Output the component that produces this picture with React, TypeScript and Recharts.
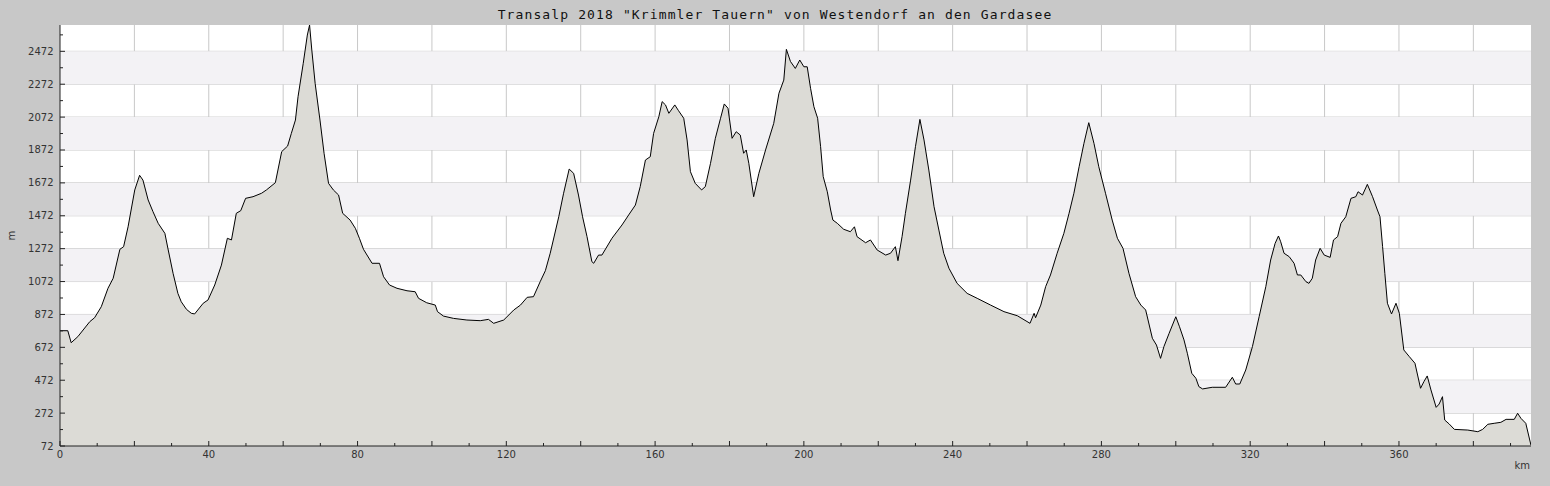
import React from 'react';
import { AreaChart, Area, XAxis, YAxis, CartesianGrid, ReferenceArea } from 'recharts';

const TITLE = 'Transalp 2018 "Krimmler Tauern" von Westendorf an den Gardasee';

// distance along the route (km) and elevation (m)
const kmValues = [
  0, 2.1, 3.0, 4.8, 8.0, 9.3, 11.1, 12.9, 14.3, 16.1, 17.1, 18.3, 20.1, 21.4, 22.3, 23.7, 25.0, 26.4, 28.2, 29.1,
  30.4, 31.7, 32.6, 34.0, 35.3, 36.2, 38.5, 39.8, 41.6, 43.4, 45.0, 46.1, 47.4, 48.6, 49.9, 51.9, 54.2, 55.5, 57.9, 59.6,
  61.2, 62.2, 63.3, 64.0, 65.4, 66.5, 67.1, 67.7, 68.6, 69.9, 71.0, 72.2, 73.5, 74.9, 76.0, 78.0, 79.4, 80.5, 81.6, 83.9,
  85.9, 87.0, 88.6, 90.6, 93.3, 95.5, 96.4, 98.6, 100.9, 101.5, 103.1, 105.8, 109.4, 113.0, 115.2, 116.6, 119.3, 122.0, 123.8, 125.6,
  127.3, 129.1, 130.5, 131.8, 134.1, 135.4, 136.9, 138.1, 139.4, 140.5, 141.7, 143.0, 143.5, 144.8, 145.7, 148.4, 151.1, 152.9, 154.7, 156.0,
  157.4, 158.7, 159.6, 161.0, 161.9, 162.8, 163.7, 165.3, 166.3, 167.7, 168.6, 169.5, 170.8, 172.5, 173.5, 174.9, 176.2, 177.6, 178.6, 179.6,
  180.7, 181.8, 182.9, 183.8, 184.5, 185.2, 186.5, 187.9, 189.7, 191.9, 193.3, 194.6, 195.3, 196.4, 197.7, 198.9, 200.0, 200.9, 201.8, 202.7,
  203.7, 204.5, 205.2, 206.3, 207.2, 207.8, 209.0, 210.7, 212.5, 213.6, 214.3, 216.6, 217.9, 219.7, 222.0, 223.3, 224.6, 225.3, 226.4, 227.3,
  228.7, 230.0, 231.2, 232.3, 233.6, 235.0, 236.3, 237.6, 239.0, 241.2, 243.9, 246.6, 250.2, 253.8, 257.4, 260.8, 261.9, 262.3, 263.7, 265.0,
  266.3, 268.1, 269.9, 271.3, 272.6, 274.0, 275.3, 276.6, 278.0, 279.3, 281.1, 282.9, 284.3, 285.8, 287.4, 289.2, 290.6, 291.9, 293.7, 294.8,
  295.9, 296.8, 298.2, 300.0, 301.0, 302.2, 303.1, 304.3, 305.4, 306.2, 307.2, 309.8, 313.4, 315.2, 316.1, 317.2, 318.8, 320.6, 322.4, 324.2,
  325.5, 326.7, 327.6, 328.2, 329.1, 330.5, 331.8, 332.7, 333.6, 335.0, 335.8, 336.7, 337.6, 338.8, 339.9, 341.5, 342.4, 343.5, 344.4, 345.7,
  347.1, 348.4, 349.0, 350.2, 351.5, 352.9, 354.2, 354.9, 355.6, 356.2, 356.9, 358.0, 359.2, 360.1, 361.3, 362.8, 364.3, 365.8, 366.7, 367.6,
  368.6, 370.0, 370.8, 371.7, 372.3, 373.5, 374.9, 378.5, 381.2, 382.5, 383.9, 385.6, 387.4, 388.8, 391.0, 391.9, 392.8, 394.1, 395.5,
];

const elevation = [
  773, 773, 700, 737, 828, 852, 919, 1031, 1092, 1268, 1284, 1405, 1629, 1718, 1689, 1568, 1497, 1426, 1365, 1264,
  1122, 1000, 949, 903, 879, 875, 940, 960, 1051, 1172, 1335, 1325, 1487, 1503, 1578, 1588, 1609, 1629, 1673, 1862,
  1896, 1973, 2054, 2196, 2399, 2571, 2632, 2480, 2277, 2054, 1852, 1669, 1629, 1598, 1487, 1446, 1396, 1335, 1268, 1183,
  1183, 1101, 1051, 1031, 1016, 1010, 970, 943, 929, 889, 862, 848, 838, 834, 842, 818, 838, 899, 929, 976,
  980, 1071, 1138, 1244, 1466, 1609, 1756, 1730, 1598, 1466, 1345, 1193, 1183, 1233, 1233, 1335, 1416, 1477, 1537, 1649,
  1811, 1831, 1973, 2074, 2166, 2146, 2095, 2146, 2111, 2065, 1933, 1740, 1669, 1629, 1649, 1791, 1943, 2065, 2152, 2126,
  1943, 1983, 1963, 1852, 1872, 1791, 1588, 1730, 1872, 2034, 2217, 2297, 2484, 2410, 2368, 2419, 2378, 2378, 2247, 2135,
  2065, 1892, 1710, 1618, 1507, 1446, 1426, 1390, 1375, 1405, 1345, 1308, 1325, 1264, 1233, 1244, 1284, 1199, 1345, 1487,
  1689, 1892, 2058, 1933, 1750, 1527, 1385, 1244, 1153, 1061, 1000, 970, 929, 889, 864, 818, 879, 852, 929, 1041,
  1112, 1244, 1365, 1487, 1609, 1770, 1912, 2038, 1912, 1770, 1609, 1446, 1335, 1274, 1122, 980, 929, 899, 727, 686,
  605, 676, 757, 858, 797, 717, 636, 514, 484, 433, 419, 429, 429, 490, 449, 449, 534, 676, 858, 1041,
  1203, 1304, 1349, 1314, 1244, 1223, 1183, 1112, 1112, 1071, 1061, 1092, 1203, 1274, 1233, 1219, 1325, 1345, 1426, 1466,
  1578, 1588, 1618, 1598, 1663, 1588, 1507, 1466, 1284, 1122, 940, 875, 940, 879, 656, 615, 575, 423, 463, 498,
  413, 307, 327, 372, 230, 206, 173, 169, 159, 173, 204, 210, 216, 234, 234, 271, 240, 210, 76,
];

const xTicks = [
  0, 10, 20, 30, 40, 50, 60, 70, 80, 90, 100, 110, 120, 130, 140, 150, 160, 170, 180, 190,
  200, 210, 220, 230, 240, 250, 260, 270, 280, 290, 300, 310, 320, 330, 340, 350, 360, 370, 380, 390,
];
const xGrid = [20, 40, 60, 80, 100, 120, 140, 160, 180, 200, 220, 240, 260, 280, 300, 320, 340, 360, 380];
const yTicks = [
  72, 172, 272, 372, 472, 572, 672, 772, 872, 972, 1072, 1172, 1272, 1372, 1472, 1572, 1672, 1772, 1872, 1972,
  2072, 2172, 2272, 2372, 2472, 2572,
];
const yGrid = [272, 472, 672, 872, 1072, 1272, 1472, 1672, 1872, 2072, 2272, 2472];
// shaded bands [from, to]
const bands = [
  [272, 472], [672, 872], [1072, 1272], [1472, 1672], [1872, 2072], [2272, 2472],
];

const data = kmValues.map((km, i) => ({ km, ele: elevation[i] }));

const AXIS = '#222';
const TEXT = '#333';
const FONT = '"DejaVu Sans", sans-serif';

const KmTick = (props: any) => {
  const { x, y, payload } = props;
  const v = payload.value;
  const major = v % 20 === 0;
  return (
    <g>
      <line x1={x} x2={x} y1={y} y2={y - (major ? 5 : 3)} stroke={AXIS} />
      {v % 40 === 0 && (
        <text x={x} y={y + 11.5} textAnchor="middle" fontSize={10} fontFamily={FONT} fill={TEXT}>{v}</text>
      )}
    </g>
  );
};

const EleTick = (props: any) => {
  const { x, y, payload } = props;
  const v = payload.value;
  const major = (v - 72) % 200 === 0;
  return (
    <g>
      <line x1={x} x2={x + (major ? 5 : 3)} y1={y} y2={y} stroke={AXIS} />
      {major && (
        <text x={x - 6.5} y={y + 3.5} textAnchor="end" fontSize={10} fontFamily={FONT} fill={TEXT}>{v}</text>
      )}
    </g>
  );
};

export default function App() {
  return (
    <div style={{ position: 'absolute', left: 0, top: 0, width: 1550, height: 486, background: '#c8c8c8' }}>
      <div
        style={{
          position: 'absolute', left: 0, top: 8, width: 1550, textAlign: 'center',
          fontFamily: '"DejaVu Sans Mono", monospace', fontSize: 13, lineHeight: '13px',
          letterSpacing: 1.12, color: '#111',
        }}
      >
        {TITLE}
      </div>
      <AreaChart width={1550} height={486} data={data} margin={{ top: 25, right: 19, bottom: 0, left: 0 }}>
        {bands.map(([a, b]) => (
          <ReferenceArea key={a} y1={a} y2={b} fill="#f3f2f5" fillOpacity={1} stroke="none" ifOverflow="hidden" />
        ))}
        <CartesianGrid
          stroke="#c8c8c8"
          fill="#ffffff"
          horizontalValues={yGrid}
          verticalValues={xGrid}
        />
        <XAxis
          dataKey="km"
          type="number"
          domain={[0, 395.5]}
          allowDataOverflow
          ticks={xTicks}
          interval={0}
          height={40}
          tickSize={0}
          tickMargin={0}
          tickLine={false}
          axisLine={{ stroke: AXIS }}
          tick={<KmTick />}
          label={{
            value: 'km',
            content: (p: any) => (
              <text x={p.viewBox.x + p.viewBox.width - 1} y={p.viewBox.y + 23} textAnchor="end" fontSize={10} fontFamily={FONT} fill={TEXT}>km</text>
            ),
          }}
        />
        <YAxis
          type="number"
          domain={[72, 2632]}
          allowDataOverflow
          ticks={yTicks}
          interval={0}
          width={60}
          tickSize={0}
          tickMargin={0}
          tickLine={false}
          axisLine={{ stroke: AXIS }}
          tick={<EleTick />}
          label={{
            value: 'm',
            content: (p: any) => {
              const cx = 15;
              const cy = p.viewBox.y + p.viewBox.height / 2;
              return (
                <text x={cx} y={cy} transform={`rotate(-90 ${cx} ${cy})`} textAnchor="middle" fontSize={10} fontFamily={FONT} fill={TEXT}>m</text>
              );
            },
          }}
        />
        <Area
          type="linear"
          dataKey="ele"
          stroke="#000"
          strokeWidth={1}
          fill="#dcdbd6"
          fillOpacity={1}
          dot={false}
          activeDot={false}
          isAnimationActive={false}
        />
      </AreaChart>
    </div>
  );
}
